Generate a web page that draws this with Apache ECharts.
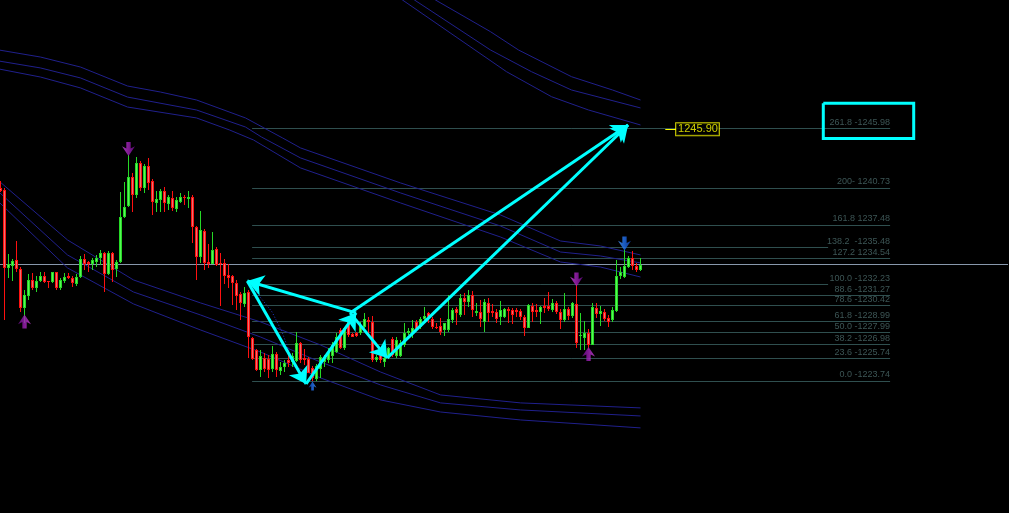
<!DOCTYPE html>
<html><head><meta charset="utf-8">
<script src="https://cdn.jsdelivr.net/npm/echarts@6/dist/echarts.min.js"></script>
<style>html,body{margin:0;padding:0;background:#000;}#c{width:1009px;height:513px;}</style>
</head><body><div id="c"></div>
<script>
// ---- candle data (bar index 0..160) ----
const opens = [1240.75,1240.55,1233.69,1233.89,1234.39,1233.60,1230.14,1231.25,1232.63,1231.93,
1232.54,1232.98,1232.54,1232.45,1233.33,1231.95,1232.54,1233.01,1232.78,1232.25,
1232.92,1234.48,1234.19,1234.01,1234.19,1234.54,1234.98,1233.13,1234.98,1233.60,
1234.19,1238.20,1239.17,1241.72,1240.11,1242.95,1240.75,1242.66,1241.34,1239.38,
1239.67,1240.46,1239.32,1239.82,1238.88,1239.52,1239.91,1239.78,1239.91,1237.27,
1234.63,1236.97,1234.21,1234.04,1235.33,1234.15,1234.10,1233.07,1232.98,1232.34,
1231.40,1230.52,1231.60,1227.50,1226.47,1224.71,1225.74,1225.68,1224.77,1226.12,
1224.65,1224.95,1225.59,1225.44,1225.53,1227.06,1225.74,1225.65,1224.89,1223.92,
1224.77,1225.44,1225.59,1225.94,1226.32,1228.23,1226.62,1228.96,1227.85,1227.94,
1227.94,1228.52,1229.11,1228.96,1225.59,1226.03,1225.44,1225.83,1227.44,1225.94,
1225.94,1226.91,1227.94,1227.94,1228.96,1228.47,1229.17,1229.70,1229.17,1228.52,
1228.58,1228.23,1228.23,1229.11,1230.05,1229.55,1231.02,1230.72,1231.31,1229.70,
1229.84,1228.96,1230.63,1229.93,1229.79,1229.35,1229.40,1230.05,1229.99,1229.99,
1229.90,1229.40,1228.43,1230.37,1229.99,1229.84,1230.34,1230.37,1229.99,1230.58,
1229.79,1229.11,1230.08,1229.49,1230.49,1227.68,1227.55,1227.94,1226.91,1230.19,
1229.61,1229.79,1229.26,1229.11,1229.90,1233.01,1232.92,1233.80,1234.54,1233.89,
1233.51];
const closes = [1240.46,1233.66,1234.04,1234.30,1233.60,1230.17,1231.31,1232.63,1231.93,1232.54,
1232.98,1232.48,1232.43,1233.33,1231.93,1232.63,1232.92,1232.78,1232.34,1232.92,
1234.48,1234.01,1234.01,1234.39,1234.59,1235.03,1233.13,1234.98,1233.51,1234.19,
1238.20,1239.08,1241.72,1240.11,1242.95,1240.75,1242.66,1241.19,1239.52,1239.73,
1240.46,1239.38,1239.91,1238.99,1239.67,1239.91,1239.82,1239.96,1237.27,1234.63,
1237.03,1234.15,1234.04,1235.27,1233.95,1234.04,1232.98,1232.83,1232.34,1231.22,
1230.58,1231.51,1227.64,1225.65,1224.71,1225.94,1224.77,1224.71,1226.12,1224.71,
1224.95,1225.35,1225.30,1225.94,1227.11,1225.59,1225.59,1224.47,1224.01,1225.06,
1225.88,1225.83,1226.32,1226.91,1227.64,1226.62,1228.38,1227.79,1227.64,1227.70,
1228.67,1229.17,1228.96,1225.59,1225.88,1225.59,1225.74,1226.62,1226.03,1227.35,
1227.06,1227.99,1228.17,1228.43,1228.32,1229.17,1229.46,1229.35,1228.47,1228.38,
1228.08,1228.82,1229.17,1229.99,1229.70,1231.02,1230.72,1231.31,1229.99,1229.93,
1229.17,1230.72,1229.75,1229.70,1229.17,1229.99,1230.05,1229.93,1229.55,1229.79,
1229.40,1228.43,1230.43,1229.79,1229.79,1230.28,1230.17,1230.08,1230.58,1229.79,
1229.11,1230.08,1229.49,1230.58,1227.06,1227.79,1227.94,1226.91,1230.28,1229.61,
1229.90,1229.20,1228.91,1229.99,1233.01,1233.31,1233.89,1234.59,1233.89,1233.51,
1233.98];
const lows = [1240.37,1229.11,1232.83,1232.54,1233.36,1229.81,1228.85,1230.87,1231.75,1231.60,
1232.48,1232.37,1231.93,1232.37,1231.75,1231.75,1232.37,1232.72,1232.04,1232.13,
1232.78,1233.51,1233.36,1233.51,1233.80,1233.95,1231.60,1233.07,1232.48,1232.92,
1234.10,1238.06,1239.08,1238.64,1239.82,1240.49,1240.26,1240.55,1238.35,1238.64,
1238.64,1238.64,1238.79,1238.73,1238.64,1239.38,1239.23,1238.94,1235.91,1232.63,
1234.15,1233.51,1233.66,1234.04,1233.86,1230.34,1232.28,1231.90,1230.43,1229.99,
1229.11,1230.28,1225.74,1225.59,1224.62,1224.12,1224.56,1223.98,1224.56,1224.12,
1224.27,1224.56,1224.95,1224.95,1225.44,1225.30,1225.15,1224.42,1223.74,1223.74,
1224.01,1225.00,1225.35,1225.35,1226.18,1226.53,1226.47,1227.64,1227.59,1227.59,
1227.79,1228.38,1227.79,1225.44,1225.44,1225.35,1225.00,1225.68,1225.85,1225.77,
1225.85,1226.76,1227.79,1227.50,1228.23,1228.29,1228.96,1228.82,1228.29,1228.29,
1227.79,1227.70,1228.08,1228.82,1228.67,1229.40,1229.55,1230.28,1229.40,1229.46,
1228.47,1228.08,1228.96,1229.35,1228.82,1228.67,1229.26,1228.82,1228.73,1229.40,
1229.11,1227.73,1228.38,1228.96,1229.40,1228.73,1229.70,1229.90,1229.79,1229.61,
1228.32,1228.96,1229.11,1229.26,1226.62,1226.47,1226.47,1226.47,1226.91,1229.26,
1228.61,1229.02,1228.52,1228.96,1229.84,1232.72,1232.78,1233.66,1233.51,1233.36,
1233.42];
const highs = [1241.34,1240.73,1234.92,1234.48,1236.06,1233.80,1231.75,1233.18,1233.25,1232.98,
1233.36,1233.33,1232.54,1233.36,1233.36,1232.83,1233.25,1233.25,1233.01,1233.13,
1234.77,1234.92,1234.30,1234.59,1234.83,1235.27,1235.12,1235.18,1235.12,1234.39,
1240.40,1241.28,1243.63,1242.07,1243.48,1243.13,1242.84,1243.34,1241.49,1240.49,
1240.61,1240.79,1240.11,1240.46,1239.91,1240.26,1240.11,1240.49,1240.11,1237.38,
1238.73,1237.09,1235.80,1236.83,1235.51,1235.03,1234.45,1234.04,1233.07,1232.63,
1231.60,1232.04,1231.75,1227.64,1226.56,1226.47,1226.23,1226.03,1226.82,1226.32,
1225.44,1225.59,1226.03,1226.23,1228.08,1227.20,1226.53,1225.83,1225.06,1225.24,
1226.03,1226.03,1226.62,1227.20,1227.94,1228.38,1228.52,1229.46,1227.94,1228.08,
1228.96,1229.70,1229.35,1229.46,1226.03,1226.32,1226.03,1226.76,1227.61,1227.61,
1227.35,1228.82,1228.38,1229.11,1229.11,1229.35,1230.23,1229.79,1229.35,1228.87,
1229.26,1228.87,1231.31,1230.14,1230.28,1231.40,1231.46,1231.75,1231.69,1230.63,
1230.87,1230.93,1231.02,1230.52,1230.05,1230.81,1230.14,1230.28,1230.19,1230.19,
1230.08,1229.55,1230.49,1230.58,1230.49,1230.37,1231.02,1231.55,1230.96,1230.78,
1230.08,1231.46,1230.28,1230.72,1232.25,1229.70,1229.02,1228.32,1230.58,1230.58,
1230.37,1230.08,1229.55,1230.28,1234.39,1233.80,1235.27,1234.77,1235.18,1234.10,
1234.59];

// ---- envelope bands: [barIndex, price] ----
const bandA1 = [[95,1260.09],[108.75,1257.27],[122.5,1254.48],[129.5,1252.87],[142.75,1250.52],[153,1249.35],[160,1248.47]];
const bandA2 = [[90,1260.44],[103.5,1257.27],[122.5,1252.87],[132.75,1250.96],[142.75,1249.35],[160,1247.77]];
const bandA3 = [[87.5,1260.44],[100.5,1257.27],[126.5,1250.96],[137.75,1248.76],[147,1247.59],[160,1246.27]];
const bandB1 = [[-0.4,1252.87],[10,1252.25],[20,1251.37],[31.75,1249.70],[40,1249.17],[49,1248.47],[61.25,1246.89],[70.5,1245.13],[75,1244.25],[100,1241.17],[125,1238.35],[140,1236.06],[150,1235.62],[160,1234.83]];
const bandB2 = [[-0.4,1251.90],[10,1251.29],[20,1250.41],[31.75,1248.73],[49,1247.59],[61.25,1246.09],[65.25,1245.21],[75,1243.37],[100,1240.29],[125,1237.38],[140,1235.09],[150,1234.74],[160,1234.13]];
const bandB3 = [[-0.4,1251.20],[10,1250.49],[20,1249.53],[31.75,1247.85],[49,1246.89],[57.25,1245.83],[63.25,1244.95],[75,1242.49],[100,1239.41],[125,1236.41],[140,1234.21],[150,1233.77],[160,1232.89]];
const bandC1 = [[-0.4,1241.34],[16.75,1236.15],[33.25,1232.63],[50,1230.61],[65,1228.94],[80,1226.91],[95,1224.53],[110,1222.51],[130,1221.81],[160,1221.37]];
const bandC2 = [[-0.4,1240.37],[16.75,1234.83],[33.25,1231.57],[50,1229.55],[65,1227.61],[80,1225.41],[95,1223.39],[110,1221.81],[130,1221.19],[160,1220.66]];
const bandC3 = [[-0.4,1239.49],[16.75,1233.69],[33.25,1230.52],[50,1228.23],[65,1226.29],[80,1224.01],[95,1222.07],[110,1221.01],[130,1220.31],[160,1219.61]];
const dottedTrend = [[62.9,1232.19],[63.9,1231.57],[67.9,1229.81],[70.4,1228.05],[73.2,1225.33]];

// ---- fibonacci levels ----
const fibLabels = ['261.8 -1245.98','200- 1240.73','161.8 1237.48','138.2  -1235.48','127.2 1234.54','100.0 -1232.23','88.6 -1231.27','78.6 -1230.42','61.8 -1228.99','50.0 -1227.99','38.2 -1226.98','23.6 -1225.74','0.0 -1223.74'];
const fibPrices = [1245.98,1240.73,1237.48,1235.48,1234.54,1232.23,1231.27,1230.42,1228.99,1227.99,1226.98,1225.74,1223.74];
const fibCut = [false,false,false,true,false,true,false,false,false,false,false,false,false];
const fibStartBar = 62.9, fibEndBar = 222.4, fibCutBar = 206.9;
const currentPrice = 1233.98;

// ---- wave arrows [from, to] ----
const waveArrows = [
  [[61.7,1232.54],[76.4,1223.48]],
  [[76.4,1223.48],[88.9,1229.73]],
  [[88.9,1229.73],[61.7,1232.54]],
  [[87.4,1229.73],[96.7,1225.77]],
  [[87.4,1229.73],[156.9,1246.27]],
  [[96.7,1225.77],[156.9,1246.27]]
];
const targetPrice = 1245.90;
const targetLabelBar = 168.9, targetTickBar = 166.2;
const boxCorners = [[205.7,1248.19],[228.3,1245.08]];

// ---- fractal markers ----
const fractalDownPurple = [[32,1244.16],[144,1232.67]];
const fractalDownBlue = [[156,1235.84]];
const fractalUpPurple = [[6,1228.98],[147,1226.12]];
const fractalUpBlue = [[78,1223.30]];

const NBARS = 252;
const candleData = opens.map((o, i) => [i, o, closes[i], lows[i], highs[i]]);

const FONT = 'Liberation Sans';
const UP_EDGE = '#26d826', UP_FILL = '#56f856', DN_EDGE = '#ff1010', DN_FILL = '#e87272';

function renderCandle(params, api) {
  const i = api.value(0), o = api.value(1), c = api.value(2), lo = api.value(3), hi = api.value(4);
  const pO = api.coord([i, o]), pC = api.coord([i, c]), pL = api.coord([i, lo]), pH = api.coord([i, hi]);
  const cx = Math.floor(pO[0]);
  const up = c >= o;
  const edge = up ? UP_EDGE : DN_EDGE;
  const fill = up ? UP_FILL : DN_FILL;
  const top = Math.round(Math.min(pO[1], pC[1]));
  const bot = Math.max(top + 1, Math.round(Math.max(pO[1], pC[1])));
  const yH = Math.round(pH[1]), yL = Math.max(Math.round(pL[1]), yH + 1);
  const children = [
    {type: 'rect', shape: {x: cx, y: yH, width: 1, height: yL - yH}, style: {fill: edge}},
    {type: 'rect', shape: {x: cx - 1, y: top, width: 3, height: bot - top}, style: {fill: edge}}
  ];
  if (bot - top > 2) {
    children.push({type: 'rect', shape: {x: cx, y: top + 1, width: 1, height: bot - top - 2}, style: {fill: fill}});
  }
  return {type: 'group', children: children};
}

const bandStyle = {color: '#20208c', width: 1};
function band(d) {
  return {type: 'line', data: d, showSymbol: false, symbol: 'none', z: 2,
    lineStyle: bandStyle, silent: true, clip: true};
}
const arrowPath = 'path://M4,0L8,0L8,6L12,4L6,13L0,4L4,6Z';
const purple = {type: 'linear', x: 0, y: 0, x2: 1, y2: 0, colorStops: [{offset: 0, color: '#cc44dd'}, {offset: 0.5, color: '#a020b8'}, {offset: 1, color: '#680a88'}]};
const blue = {type: 'linear', x: 0, y: 0, x2: 1, y2: 0, colorStops: [{offset: 0, color: '#4a9aff'}, {offset: 0.5, color: '#2070f0'}, {offset: 1, color: '#1040b0'}]};
function marker(d, color, rot, size) {
  return {type: 'scatter', data: d, symbol: arrowPath, symbolSize: size || [13, 14],
    symbolRotate: rot, itemStyle: {color: color}, z: 6, silent: true};
}

const fibLineData = fibPrices.map((p, k) => ({coords: [[fibStartBar, p], [fibCut[k] ? fibCutBar : fibEndBar, p]]}));
const fibLabelData = fibPrices.map((p, k) => ({value: [fibEndBar, p], name: fibLabels[k]}));

const chart = echarts.init(document.getElementById('c'), null, {renderer: 'canvas'});
chart.setOption({
  animation: false,
  backgroundColor: '#000000',
  grid: {left: 0, right: 1, top: 0, bottom: 0},
  xAxis: {type: 'value', min: -0.125, max: NBARS - 0.125, show: false, splitLine: {show: false}},
  yAxis: {type: 'value', min: 1212.12, max: 1257.27, show: false, splitLine: {show: false}},
  series: [
    {type: 'lines', coordinateSystem: 'cartesian2d', z: 1, silent: true,
      data: fibLineData, lineStyle: {color: '#2f4f4f', width: 1, opacity: 1}},
    {type: 'scatter', z: 1, silent: true, data: fibLabelData, symbolSize: 0,
      label: {show: true, position: 'left', distance: 0, offset: [0, -6], formatter: p => p.name,
        color: '#4b6a6a', fontSize: 9, fontFamily: FONT}},
    {type: 'lines', coordinateSystem: 'cartesian2d', z: 1, silent: true,
      data: [{coords: [[-0.125, currentPrice], [NBARS - 0.125, currentPrice]]}],
      lineStyle: {color: '#8898ac', width: 1, opacity: 1}},
    band(bandA1), band(bandA2), band(bandA3),
    band(bandB1), band(bandB2), band(bandB3),
    band(bandC1), band(bandC2), band(bandC3),
    {type: 'line', data: dottedTrend, showSymbol: false, symbol: 'none', z: 2,
      lineStyle: {color: '#2438d0', width: 1, type: [1, 2]}, silent: true},
    {type: 'custom', data: candleData, renderItem: renderCandle, z: 3, silent: true,
      encode: {x: 0, y: [1, 2, 3, 4]}},
    {type: 'lines', coordinateSystem: 'cartesian2d', z: 5, silent: true,
      data: waveArrows.map(a => ({coords: a})),
      symbol: ['none', 'arrow'], symbolSize: [12, 16],
      lineStyle: {color: '#00ffff', width: 3, opacity: 1}},
    marker(fractalDownPurple, purple, 0),
    marker(fractalDownBlue, blue, 0),
    marker(fractalUpPurple, purple, 180),
    marker(fractalUpBlue, blue, 180, [8, 9]),
    {type: 'lines', coordinateSystem: 'cartesian2d', z: 6, silent: true,
      data: [{coords: [[targetTickBar, targetPrice], [targetLabelBar, targetPrice]]}],
      lineStyle: {color: '#ffff00', width: 1, opacity: 1}},
    {type: 'scatter', z: 7, silent: true, symbolSize: 0,
      data: [[targetLabelBar, targetPrice]],
      label: {show: true, position: 'right', distance: 0, formatter: targetPrice.toFixed(2),
        color: '#ffff00', fontSize: 11, fontFamily: FONT, backgroundColor: '#000',
        borderColor: '#ffff00', borderWidth: 1, padding: [1, 1, 0, 2]}},
    {type: 'lines', coordinateSystem: 'cartesian2d', z: 7, silent: true, polyline: true,
      data: [{coords: [
        [boxCorners[0][0], boxCorners[0][1]], [boxCorners[1][0], boxCorners[0][1]],
        [boxCorners[1][0], boxCorners[1][1]], [boxCorners[0][0], boxCorners[1][1]],
        [boxCorners[0][0], boxCorners[0][1]]]}],
      lineStyle: {color: '#00ffff', width: 3, opacity: 1, join: 'miter'}}
  ]
});
</script></body></html>
